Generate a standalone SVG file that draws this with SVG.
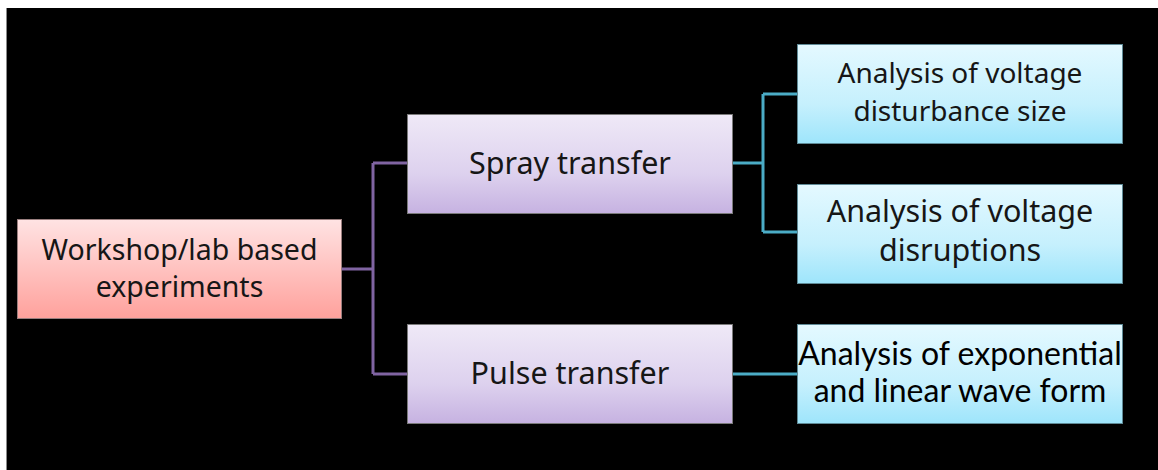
<svg xmlns="http://www.w3.org/2000/svg" width="1158" height="470" viewBox="0 0 1158 470">
  <defs>
    <linearGradient id="gPink" x1="0" y1="0" x2="0" y2="1">
      <stop offset="0" stop-color="#ffe3e3"/>
      <stop offset="1" stop-color="#ffa19c"/>
    </linearGradient>
    <linearGradient id="gPurple" x1="0" y1="0" x2="0" y2="1">
      <stop offset="0" stop-color="#efe9f7"/>
      <stop offset="0.6" stop-color="#ddd1ee"/>
      <stop offset="1" stop-color="#c6b2e1"/>
    </linearGradient>
    <linearGradient id="gBlue" x1="0" y1="0" x2="0" y2="1">
      <stop offset="0" stop-color="#e4f9ff"/>
      <stop offset="0.6" stop-color="#c6f0fd"/>
      <stop offset="1" stop-color="#9ee5fb"/>
    </linearGradient>
    <style>
      .box { stroke: #7a7a7a; stroke-width: 1; }
      .pink { fill: url(#gPink); stroke: #9a7f7f; }
      .purple { fill: url(#gPurple); }
      .blue { fill: url(#gBlue); stroke: #5f8a96; }
      .lbl { font-family: "Noto Sans", "Open Sans", sans-serif; font-size: 30.5px; fill: #161616; text-anchor: middle; }
      .root { font-size: 28.5px; }
      .small { font-size: 28px; }
      .big { font-size: 30.5px; }
      .cal { font-family: Lato, "Noto Sans", sans-serif; font-size: 32px; fill: #000; text-anchor: middle; }
      .purpleLink { fill: none; stroke: #8064a2; stroke-width: 3; }
      .tealLink { fill: none; stroke: #4bacc6; stroke-width: 3; }
    </style>
  </defs>

  <!-- page -->
  <rect x="0" y="0" width="1158" height="470" fill="#ffffff"/>
  <rect x="6" y="8" width="1152" height="462" fill="#000000"/>
  <line x1="6.5" y1="8" x2="6.5" y2="470" stroke="#8a8a8a" stroke-width="1"/>

  <!-- connectors -->
  <g id="connectors">
    <path class="purpleLink" d="M342 269 H373 M373 163 V374 M373 163 H407 M373 374 H407"/>
    <path class="tealLink" d="M733 163 H763 M763 94 V232 M763 94 H797 M763 232 H797"/>
    <path class="tealLink" d="M733 374 H797"/>
  </g>

  <g id="node-root">
    <rect class="box pink" x="17.5" y="219.5" width="324" height="99"/>
    <text class="lbl root"><tspan x="179.5" y="260">Workshop/lab based</tspan><tspan x="179.5" y="297">experiments</tspan></text>
  </g>

  <g id="node-spray">
    <rect class="box purple" x="407.5" y="114.5" width="325" height="99"/>
    <text class="lbl" x="570" y="174">Spray transfer</text>
  </g>

  <g id="node-pulse">
    <rect class="box purple" x="407.5" y="324.5" width="325" height="99"/>
    <text class="lbl" x="570" y="384">Pulse transfer</text>
  </g>

  <g id="node-size">
    <rect class="box blue" x="797.5" y="44.5" width="325" height="99"/>
    <text class="lbl small"><tspan x="960" y="83">Analysis of voltage</tspan><tspan x="960" y="121">disturbance size</tspan></text>
  </g>

  <g id="node-disruptions">
    <rect class="box blue" x="797.5" y="184.5" width="325" height="99"/>
    <text class="lbl big"><tspan x="960" y="222">Analysis of voltage</tspan><tspan x="960" y="261">disruptions</tspan></text>
  </g>

  <g id="node-waveform">
    <rect class="box blue" x="797.5" y="324.5" width="325" height="99"/>
    <text class="cal"><tspan x="960" y="365">Analysis of exponential</tspan><tspan x="960" y="402">and linear wave form</tspan></text>
  </g>
</svg>
